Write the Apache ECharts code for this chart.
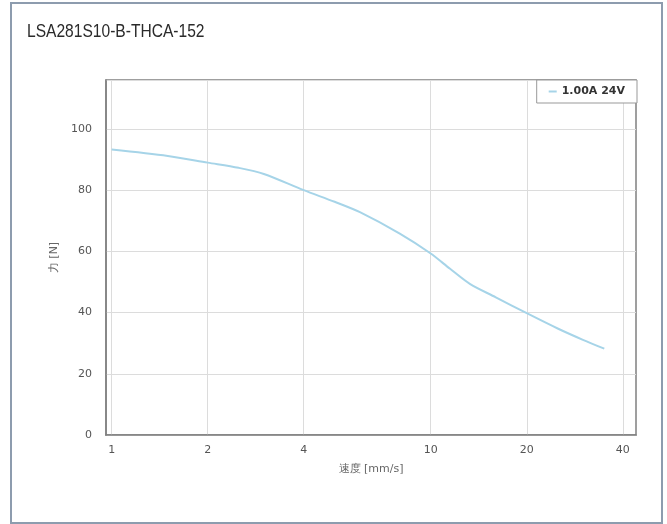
<!DOCTYPE html>
<html>
<head>
<meta charset="utf-8">
<script src="https://cdn.jsdelivr.net/npm/echarts@6/dist/echarts.min.js"></script>
<style>
html,body{margin:0;padding:0;background:#fff;}
#frame{position:absolute;left:10px;top:2px;width:649px;height:518px;border:2px solid #8d9cae;pointer-events:none;z-index:2;}
#chart{position:absolute;left:0;top:0;width:667px;height:524px;}
</style>
</head>
<body>
<div id="chart"></div>
<div id="frame"></div>
<script>
const chartTitle = 'LSA281S10-B-THCA-152';
const seriesName = '1.00A 24V';
const speeds = [1, 1.5, 2, 2.5, 3, 4, 5, 6, 8, 10, 11.5, 13.3, 16, 20, 25, 30, 35];
const forces = [93.3, 91.2, 89, 87.3, 85.3, 80, 76.2, 72.8, 65.8, 59.3, 54.3, 49.3, 45.0, 39.8, 34.8, 31.1, 28.2];
const xTicks = [1, 2, 4, 10, 20, 40];
const xName = '速度 [mm/s]';
const yName = '力 [N]';

const chart = echarts.init(document.getElementById('chart'));
chart.setOption({
  animation: false,
  backgroundColor: '#fff',
  graphic: [{
    type: 'text',
    x: 27, y: 22,
    scaleX: 0.82,
    style: {
      text: chartTitle,
      font: 'normal 19px "Liberation Sans"',
      fill: '#2a2a2a',
      verticalAlign: 'top'
    }
  }],
  legend: {
    right: 30, top: 80,
    data: [seriesName],
    icon: 'rect', itemWidth: 8, itemHeight: 2, itemGap: 5,
    borderColor: '#999', borderWidth: 1, backgroundColor: '#fff',
    padding: [6, 12],
    textStyle: {fontFamily: 'DejaVu Sans', fontSize: 11, fontWeight: 'bold', color: '#333'}
  },
  grid: {
    left: 106, right: 31, top: 80, bottom: 89,
    show: true, borderColor: '#808080', borderWidth: 1.5
  },
  xAxis: {
    type: 'log', min: 0.96, max: 44,
    name: xName, nameLocation: 'middle', nameGap: 29,
    nameTextStyle: {fontFamily: 'DejaVu Sans', fontSize: 11, color: '#666'},
    axisLine: {show: true, lineStyle: {color: '#808080', width: 1.5}},
    axisTick: {show: false, customValues: xTicks},
    axisLabel: {customValues: xTicks, margin: 10, fontFamily: 'DejaVu Sans', fontSize: 11, color: '#555',
      formatter: v => String(v)},
    splitLine: {show: true, lineStyle: {color: '#dcdcdc', width: 1}},
    minorTick: {show: false}, minorSplitLine: {show: false}
  },
  yAxis: {
    type: 'value', min: 0, max: 116, interval: 20,
    name: yName, nameLocation: 'middle', nameGap: 44,
    nameTextStyle: {fontFamily: 'DejaVu Sans', fontSize: 11, color: '#666'},
    axisLine: {show: true, lineStyle: {color: '#808080', width: 1.5}},
    axisTick: {show: false},
    axisLabel: {margin: 14, fontFamily: 'DejaVu Sans', fontSize: 11, color: '#555', showMaxLabel: false,
      formatter: v => (v % 20 === 0 ? String(v) : '')},
    splitLine: {show: true, lineStyle: {color: '#dcdcdc', width: 1}}
  },
  series: [{
    name: seriesName,
    type: 'line',
    data: speeds.map((s, i) => [s, forces[i]]),
    smooth: 0.3,
    showSymbol: false,
    lineStyle: {color: '#a6d4e8', width: 2},
    itemStyle: {color: '#a6d4e8'}
  }]
});
</script>
</body>
</html>
